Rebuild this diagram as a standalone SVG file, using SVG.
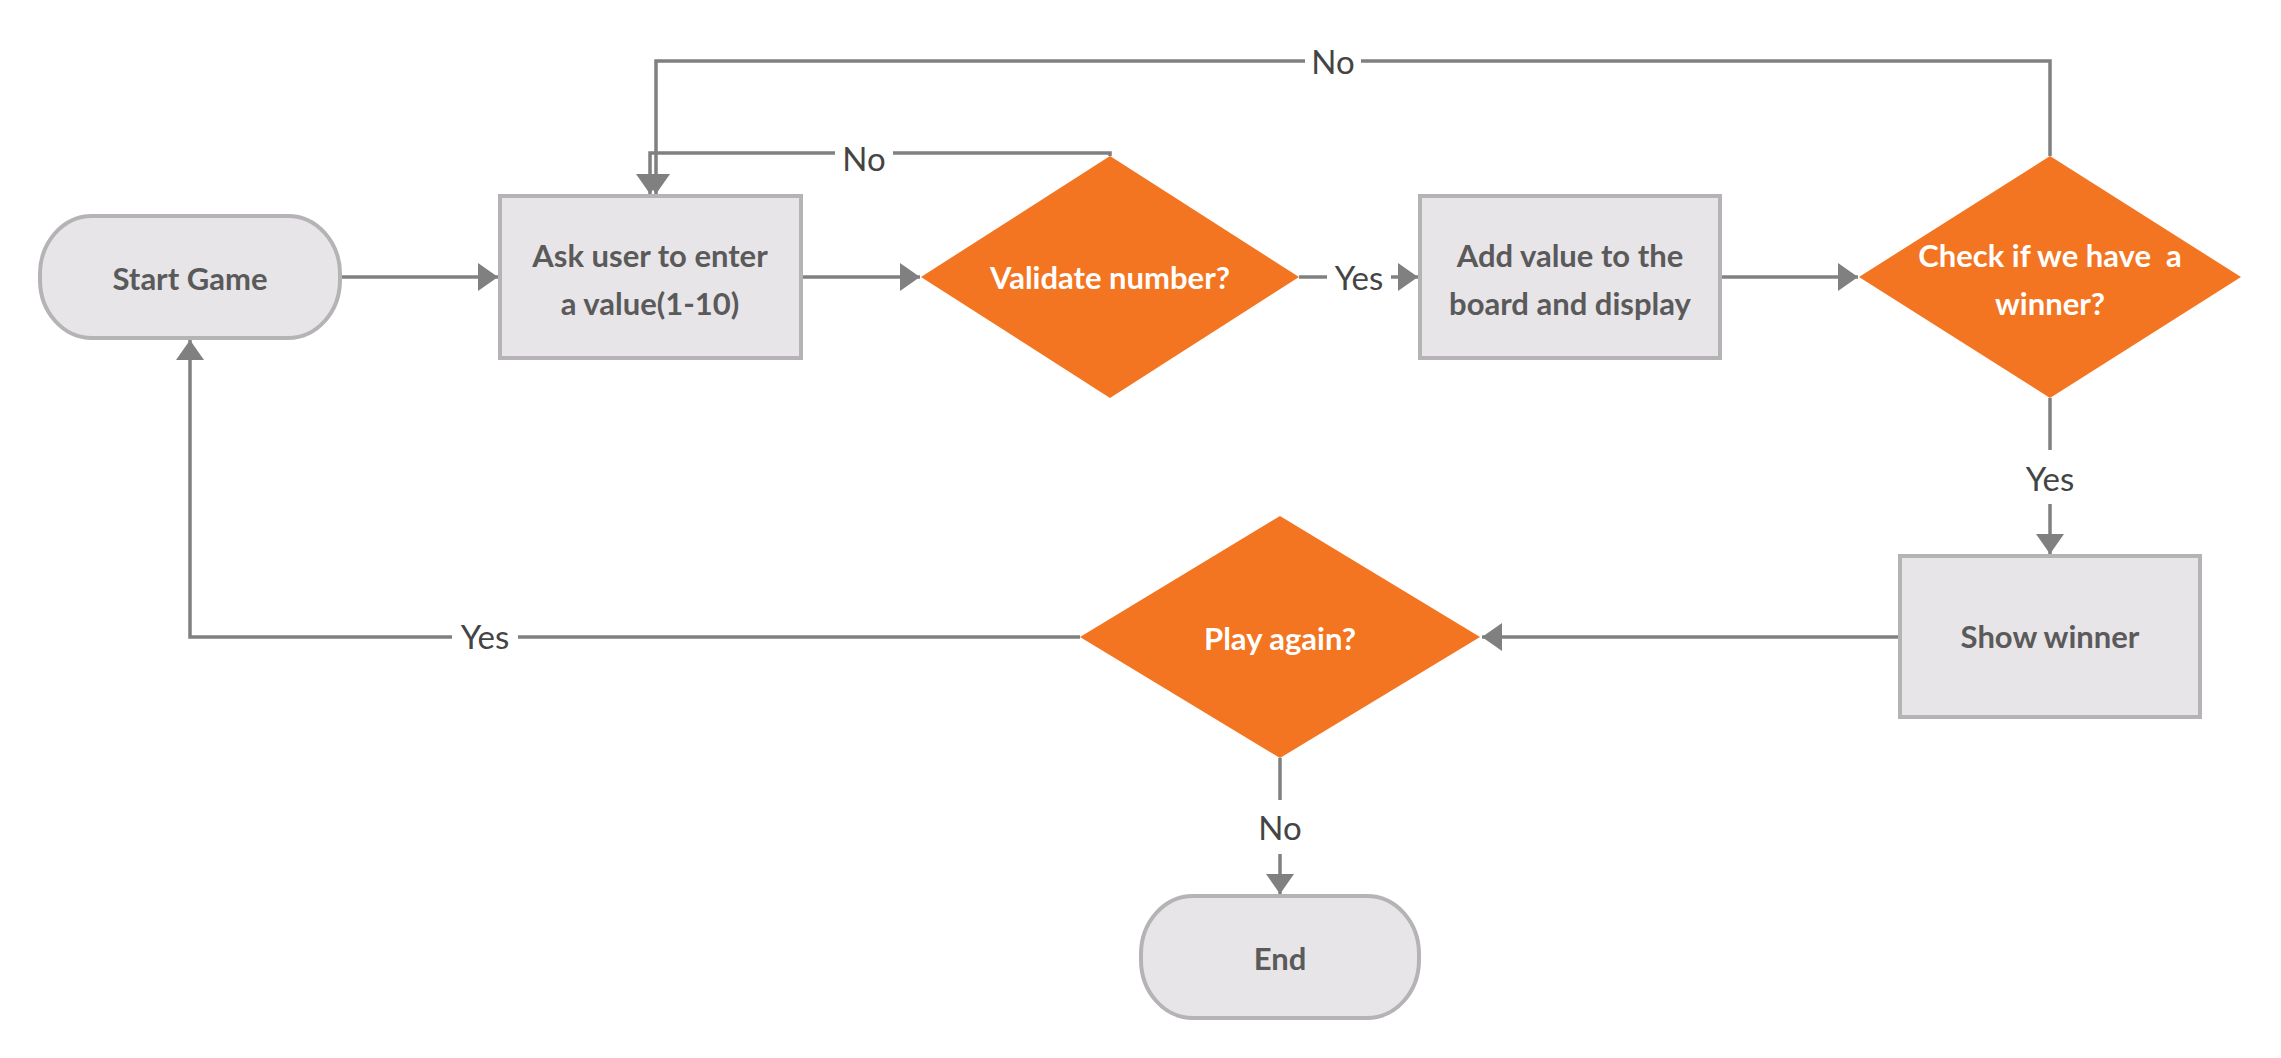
<svg xmlns="http://www.w3.org/2000/svg" width="2281" height="1058" viewBox="0 0 2281 1058">
<style>
.term{fill:#E8E5E8;stroke:#B5B3B5;stroke-width:4}
.proc{fill:#E8E5E8;stroke:#B5B3B5;stroke-width:4}
.dec{fill:#F47521;stroke:none}
.t{font-family:Lato,"Liberation Sans",sans-serif;font-size:31px;font-weight:bold;fill:#5A5A5A;text-anchor:middle}
.tw{font-family:Lato,"Liberation Sans",sans-serif;font-size:31px;font-weight:bold;fill:#FFFFFF;text-anchor:middle}
.lbl{font-family:Lato,"Liberation Sans",sans-serif;font-size:33px;fill:#444444;text-anchor:middle}
.c{fill:none;stroke:#808080;stroke-width:3.5}
.bg{fill:#FFFFFF}
</style>
<defs>
<marker id="ah" markerUnits="userSpaceOnUse" markerWidth="22" markerHeight="28" refX="20" refY="14" orient="auto" viewBox="0 0 22 28">
<path d="M0,0 L20,14 L0,28 Z" fill="#808080"/>
</marker>
</defs>
<rect width="2281" height="1058" fill="#FFFFFF"/>
<g id="connectors">
<path class="c" d="M340,277 H498" marker-end="url(#ah)"/>
<path class="c" d="M801,277 H920" marker-end="url(#ah)"/>
<path class="c" d="M1299,277 H1418" marker-end="url(#ah)"/>
<path class="c" d="M1110,156 V153 H650 V194" marker-end="url(#ah)"/>
<path class="c" d="M2050,156 V61 H656 V194" marker-end="url(#ah)"/>
<path class="c" d="M1720,277 H1858" marker-end="url(#ah)"/>
<path class="c" d="M2050,398 V554" marker-end="url(#ah)"/>
<path class="c" d="M1900,637 H1482" marker-end="url(#ah)"/>
<path class="c" d="M1080,637 H190 V340" marker-end="url(#ah)"/>
<path class="c" d="M1280,758 V894" marker-end="url(#ah)"/>
<rect class="bg" x="1327" y="255" width="64" height="44"/>
<text class="lbl" x="1359" y="290">Yes</text>
<rect class="bg" x="835" y="137" width="58" height="44"/>
<text class="lbl" x="864" y="171">No</text>
<rect class="bg" x="1305" y="40" width="56" height="44"/>
<text class="lbl" x="1333" y="74">No</text>
<rect class="bg" x="2018" y="450" width="64" height="54"/>
<text class="lbl" x="2050" y="491">Yes</text>
<rect class="bg" x="452" y="615" width="66" height="44"/>
<text class="lbl" x="485" y="649">Yes</text>
<rect class="bg" x="1250" y="800" width="60" height="54"/>
<text class="lbl" x="1280" y="840">No</text>
</g>
<g id="start">
<rect class="term" x="40" y="216" width="300" height="122" rx="52" ry="58"/>
<text class="t" x="190" y="290">Start Game</text>
</g>
<g id="ask">
<rect class="proc" x="500" y="196" width="301" height="162"/>
<text class="t" x="650" y="267">Ask user to enter</text>
<text class="t" x="650" y="315">a value(1-10)</text>
</g>
<g id="validate">
<polygon class="dec" points="1110,156 1299,277 1110,398 921,277"/>
<text class="tw" x="1110" y="289">Validate number?</text>
</g>
<g id="add">
<rect class="proc" x="1420" y="196" width="300" height="162"/>
<text class="t" x="1570" y="267">Add value to the</text>
<text class="t" x="1570" y="315">board and display</text>
</g>
<g id="check">
<polygon class="dec" points="2050,156 2241,277 2050,398 1859,277"/>
<text class="tw" x="2050" y="267" xml:space="preserve">Check if we have  a</text>
<text class="tw" x="2050" y="315">winner?</text>
</g>
<g id="show">
<rect class="proc" x="1900" y="556" width="300" height="161"/>
<text class="t" x="2050" y="648">Show winner</text>
</g>
<g id="play">
<polygon class="dec" points="1280,516 1480,637 1280,758 1080,637"/>
<text class="tw" x="1280" y="650">Play again?</text>
</g>
<g id="end">
<rect class="term" x="1141" y="896" width="278" height="122" rx="52" ry="58"/>
<text class="t" x="1280" y="970">End</text>
</g>
</svg>
